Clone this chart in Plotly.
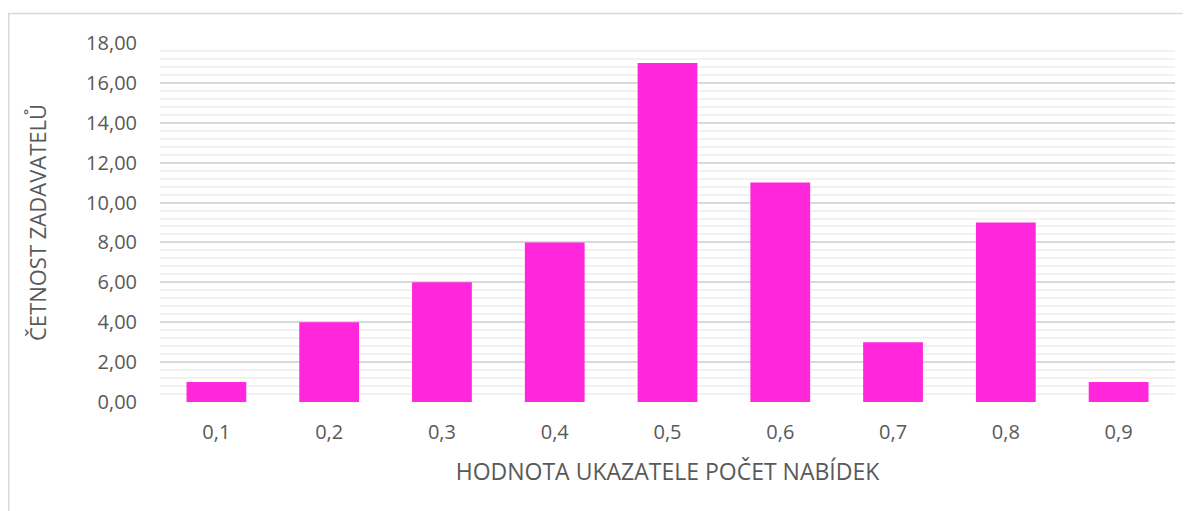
import plotly.graph_objects as go

categories = ["0,1", "0,2", "0,3", "0,4", "0,5", "0,6", "0,7", "0,8", "0,9"]
values = [1, 4, 6, 8, 17, 11, 3, 9, 1]
y_ticks = [0, 2, 4, 6, 8, 10, 12, 14, 16, 18]
y_tick_labels = ["0,00", "2,00", "4,00", "6,00", "8,00", "10,00", "12,00", "14,00", "16,00", "18,00"]

FONT = "Open Sans"
TXT = "#595959"

W, H = 1183, 503
L, R, T, B = 152, 16, 35, 109
pw, ph = W - L - R, H - T - B

fig = go.Figure()
fig.add_trace(go.Bar(
    x=categories, y=values,
    marker=dict(color="#FF26DC", line=dict(width=0)),
    width=0.53,
    hoverinfo="x+y",
))

fig.update_layout(
    width=W, height=H,
    margin=dict(l=L, r=R, t=T, b=B),
    paper_bgcolor="white", plot_bgcolor="white",
    showlegend=False,
    font=dict(family=FONT, color=TXT, size=20),
    bargap=0.47,
    xaxis=dict(
        type="category",
        showgrid=False, zeroline=False, showline=False,
        ticks="", tickfont=dict(size=20, color=TXT),
        ticklabelstandoff=16,
        title=dict(text="HODNOTA UKAZATELE POČET NABÍDEK", font=dict(size=23, color=TXT), standoff=19),
    ),
    yaxis=dict(
        range=[0, 18],
        tickvals=y_ticks, ticktext=y_tick_labels,
        tickfont=dict(size=20, color=TXT),
        showgrid=True, gridcolor="#D9D9D9", gridwidth=1.5,
        minor=dict(dtick=0.4, showgrid=True, gridcolor="#F2F2F2", gridwidth=1.5),
        zeroline=False, showline=False, ticks="",
        ticklabelstandoff=22,
        title=dict(text="ČETNOST ZADAVATELŮ", font=dict(size=22, color=TXT), standoff=33),
    ),
    shapes=[
        dict(type="rect", xref="paper", yref="paper",
             x0=(0.75 - L) / pw, x1=(1190 - L) / pw,
             y0=(H - 5.5 - B) / ph, y1=-(B + 5) / ph,
             line=dict(color="#D9D9D9", width=1.5), fillcolor="rgba(0,0,0,0)", layer="below"),
    ],
)

fig.write_html("out.html")
